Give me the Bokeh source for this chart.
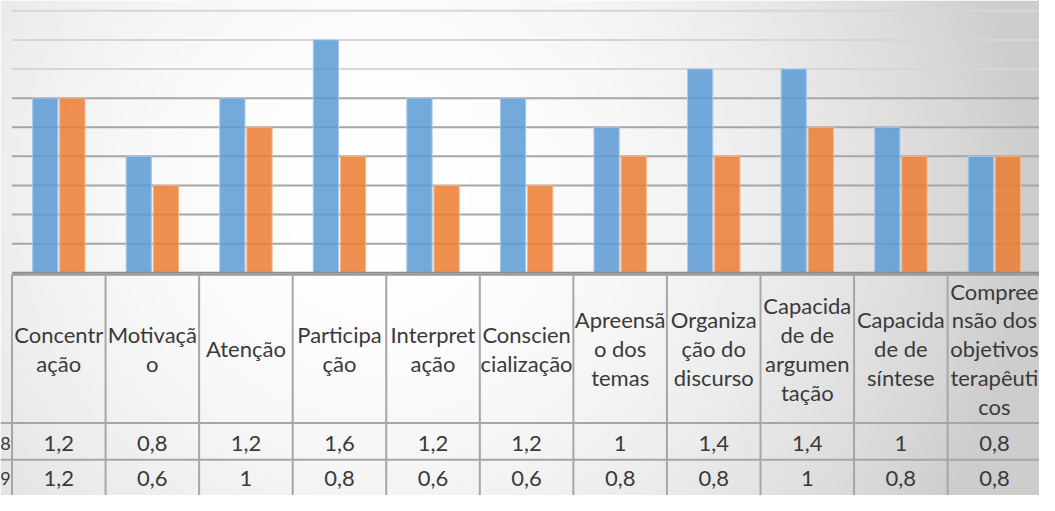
import numpy as np
from bokeh.plotting import figure
from bokeh.models import Range1d
from bokeh.core.properties import value
from bokeh.embed import file_html
from bokeh.resources import INLINE

# ---------------- data ----------------
CATEGORIES = [
    "Concentração", "Motivação", "Atenção", "Participação", "Interpretação",
    "Consciencialização", "Apreensão dos temas", "Organização do discurso",
    "Capacidade de argumentação", "Capacidade de síntese",
    "Compreensão dos objetivos terapêuticos",
]
# how the category names are wrapped in the data-table header
HEADER_LABELS = [
    "Concentr\nação", "Motivaçã\no", "Atenção", "Participa\nção", "Interpret\nação",
    "Conscien\ncialização", "Apreensã\no dos\ntemas", "Organiza\nção do\ndiscurso",
    "Capacida\nde de\nargumen\ntação", "Capacida\nde de\nsíntese",
    "Compree\nnsão dos\nobjetivos\nterapêuti\ncos",
]
# only the last character of the series names is visible in the (cropped) table
SERIES_NAMES = ["8", "9"]
SERIES_A = [1.2, 0.8, 1.2, 1.6, 1.2, 1.2, 1.0, 1.4, 1.4, 1.0, 0.8]
SERIES_B = [1.2, 0.6, 1.0, 0.8, 0.6, 0.6, 0.8, 0.8, 1.0, 0.8, 0.8]
GRID_VALUES = [0.2, 0.4, 0.6, 0.8, 1.0, 1.2, 1.4, 1.6, 1.8]

# ---------------- layout / style ----------------
W, H = 1039, 495
X0, X1 = -0.123, 10.982
Y0, Y1 = -1.531, 1.871
BLUE, ORANGE = "#5B9BD5", "#ED7D31"
TEXT = "#3a3a3a"
FONT = value("Lato")
FS = "22px"

n = len(CATEGORIES)
idx = np.arange(n) + 0.5

p = figure(width=W, height=H, x_range=Range1d(X0, X1), y_range=Range1d(Y0, Y1),
           output_backend="svg", toolbar_location=None, min_border=0,
           x_axis_type=None, y_axis_type=None, outline_line_color=None)
p.grid.visible = False
p.background_fill_color = "#ffffff"
p.border_fill_color = "#ffffff"

# background gradient (radial-ish, white centre-left, grey towards edges)
gw, gh = 260, 124
gx = np.linspace(0, 1055, gw)
gy = np.linspace(511, 0, gh)  # row 0 is the bottom
GX, GY = np.meshgrid(gx, gy)
d2 = (GX - 380) ** 2 + (GY - 200) ** 2
g = 255 - np.minimum(1.12e-4 * d2, 50)
g = g.astype(np.uint8)
img = np.empty((gh, gw), dtype=np.uint32)
view = img.view(dtype=np.uint8).reshape((gh, gw, 4))
view[:, :, 0] = g
view[:, :, 1] = g
view[:, :, 2] = g
view[:, :, 3] = 255
p.image_rgba(image=[img], x=X0, y=Y0, dw=X1 - X0, dh=Y1 - Y0)

# grid lines
dark = [v for v in GRID_VALUES if v <= 1.2]
light = [v for v in GRID_VALUES if v > 1.2]
p.segment(x0=0, x1=n, y0=dark, y1=dark, line_color="#a6a6a6", line_width=2)
p.segment(x0=0, x1=n, y0=light, y1=light, line_color="#d6d6d6", line_width=2)

# bars
p.vbar(x=idx - 0.145, top=SERIES_A, width=0.27, bottom=0,
       fill_color=BLUE, fill_alpha=0.85, line_color="#a9c9ea", line_width=1)
p.vbar(x=idx + 0.145, top=SERIES_B, width=0.27, bottom=0,
       fill_color=ORANGE, fill_alpha=0.85, line_color="#f5b58a", line_width=1)

# axis line + data table
p.segment(x0=0, x1=n, y0=0.0, y1=0.0, line_color="#8c8c8c", line_width=2)
TOP = -0.013
ROW1 = -1.032
ROW2 = -1.285
p.segment(x0=0, x1=n, y0=TOP, y1=TOP, line_color="#9a9a9a", line_width=2)
bounds = np.arange(n + 1)
p.segment(x0=bounds, x1=bounds, y0=TOP, y1=Y0, line_color="#a6a6a6", line_width=2)
p.segment(x0=X0, x1=n, y0=[ROW1, ROW2], y1=[ROW1, ROW2], line_color="#a6a6a6", line_width=2)

p.text(x=idx, y=-0.523, text=HEADER_LABELS, text_align="center", text_baseline="middle",
       text_font=FONT, text_font_size=FS, text_color=TEXT, text_line_height=1.07)

def fmt(v):
    return ("%g" % v).replace(".", ",")

p.text(x=idx, y=-1.172, text=[fmt(v) for v in SERIES_A], text_align="center",
       text_baseline="middle", text_font=FONT, text_font_size=FS, text_color=TEXT)
p.text(x=idx, y=-1.411, text=[fmt(v) for v in SERIES_B], text_align="center",
       text_baseline="middle", text_font=FONT, text_font_size=FS, text_color=TEXT)
p.text(x=-0.015, y=[-1.172, -1.411], text=SERIES_NAMES, text_align="right",
       text_baseline="middle", text_font=FONT, text_font_size="18px", text_color=TEXT)

open("out.html", "w").write(file_html(p, INLINE))
